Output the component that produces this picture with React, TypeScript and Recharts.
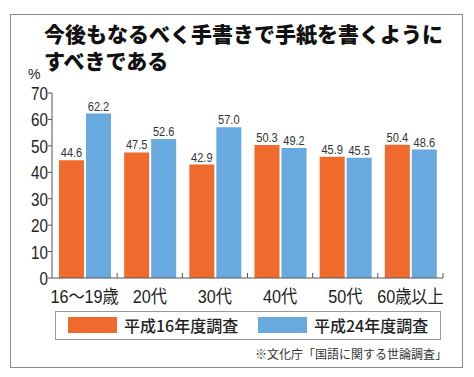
import React from "react";
import { BarChart, Bar, XAxis, YAxis, LabelList } from "recharts";

const categories = ["16〜19歳", "20代", "30代", "40代", "50代", "60歳以上"];
const h16Values = [44.6, 47.5, 42.9, 50.3, 45.9, 50.4];
const h24Values = [62.2, 52.6, 57.0, 49.2, 45.5, 48.6];
const yTicks = [0, 10, 20, 30, 40, 50, 60, 70];
const seriesNames = ["平成16年度調査", "平成24年度調査"];
const titleLines = ["今後もなるべく手書きで手紙を書くように", "すべきである"];
const sourceText = "※文化庁「国語に関する世論調査」";

const ORANGE = "#EF6A2C";
const BLUE = "#68AADF";
const NUMF = "'Liberation Sans', 'Noto Sans CJK JP', sans-serif";
const CJK = "'Noto Sans CJK JP', sans-serif";

const data = categories.map((c, i) => ({ cat: c, h16: h16Values[i], h24: h24Values[i] }));

const PLOT_LEFT = 52;
const PLOT_RIGHT = 443;
const BAND = (PLOT_RIGHT - PLOT_LEFT) / categories.length;

const XTick = (props: any) => {
  const { x, y, payload } = props;
  return (
    <g>
      <line x1={x + BAND / 2} x2={x + BAND / 2} y1={y} y2={y - 5} stroke="#555" strokeWidth={1} />
      <text
        transform={`translate(${x},${y + 25}) scale(0.9,1)`}
        x={0}
        y={0}
        textAnchor="middle"
        fontSize={18}
        fill="#222"
        fontFamily={NUMF}
      >
        {payload.value}
      </text>
    </g>
  );
};

const YTick = (props: any) => {
  const { x, y, payload } = props;
  return (
    <text
      transform={`translate(${x + 2},${y + 7}) scale(0.8,1)`}
      x={0}
      y={0}
      textAnchor="end"
      fontSize={19}
      fill="#222"
      fontFamily={NUMF}
    >
      {payload.value}
    </text>
  );
};

const BarLabel = (props: any) => {
  const { x, y, width, value } = props;
  return (
    <text
      transform={`translate(${x + width / 2},${y - 3}) scale(0.85,1)`}
      x={0}
      y={0}
      textAnchor="middle"
      fontSize={13}
      fill="#333"
      fontFamily={NUMF}
    >
      {Number(value).toFixed(1)}
    </text>
  );
};

export default function App() {
  return (
    <div style={{ position: "absolute", left: 0, top: 0, width: 474, height: 377, background: "#fff", overflow: "hidden" }}>
      <div
        style={{
          position: "absolute",
          left: 10,
          top: 14,
          width: 451,
          height: 352,
          border: "1.5px solid #8a8a8a",
        }}
      />
      <div
        style={{
          position: "absolute",
          left: 44,
          top: 20,
          fontFamily: CJK,
          fontWeight: 900,
          fontSize: 21,
          lineHeight: "27px",
          color: "#111",
          whiteSpace: "nowrap",
          letterSpacing: 0,
        }}
      >
        <div>{titleLines[0]}</div>
        <div>{titleLines[1]}</div>
      </div>
      <div style={{ position: "absolute", left: 28, top: 67, fontFamily: NUMF, fontSize: 14, lineHeight: "14px", color: "#222" }}>%</div>
      <div style={{ position: "absolute", left: 0, top: 0 }}>
        <BarChart
          width={474}
          height={377}
          data={data}
          margin={{ top: 93, right: 474 - PLOT_RIGHT, bottom: 69, left: 8 }}
          barGap={2}
          barCategoryGap={7}
        >
          <XAxis
            dataKey="cat"
            tick={<XTick />}
            tickLine={false}
            tickSize={0}
            tickMargin={0}
            height={30}
            stroke="#555"
            interval={0}
          />
          <YAxis
            domain={[0, 70]}
            ticks={yTicks}
            tick={<YTick />}
            tickSize={4}
            width={44}
            stroke="#555"
            interval={0}
          />
          <Bar dataKey="h16" fill={ORANGE} isAnimationActive={false}>
            <LabelList dataKey="h16" content={<BarLabel />} />
          </Bar>
          <Bar dataKey="h24" fill={BLUE} isAnimationActive={false}>
            <LabelList dataKey="h24" content={<BarLabel />} />
          </Bar>
        </BarChart>
      </div>
      <div
        style={{
          position: "absolute",
          left: 55,
          top: 311,
          width: 384,
          height: 27,
          border: "1px solid #999",
          background: "#fff",
        }}
      >
        <div style={{ position: "absolute", left: 12, top: 5, width: 49, height: 16, background: ORANGE }} />
        <div style={{ position: "absolute", left: 68, top: 1, fontFamily: CJK, fontSize: 16, fontWeight: 500, color: "#222", whiteSpace: "nowrap", lineHeight: "24px" }}>
          {seriesNames[0]}
        </div>
        <div style={{ position: "absolute", left: 202, top: 5, width: 49, height: 16, background: BLUE }} />
        <div style={{ position: "absolute", left: 258, top: 1, fontFamily: CJK, fontSize: 16, fontWeight: 500, color: "#222", whiteSpace: "nowrap", lineHeight: "24px" }}>
          {seriesNames[1]}
        </div>
      </div>
      <div
        style={{
          position: "absolute",
          right: 474 - 447,
          top: 345,
          fontFamily: CJK,
          fontSize: 12,
          color: "#333",
          whiteSpace: "nowrap",
          lineHeight: "18px",
        }}
      >
        {sourceText}
      </div>
    </div>
  );
}
